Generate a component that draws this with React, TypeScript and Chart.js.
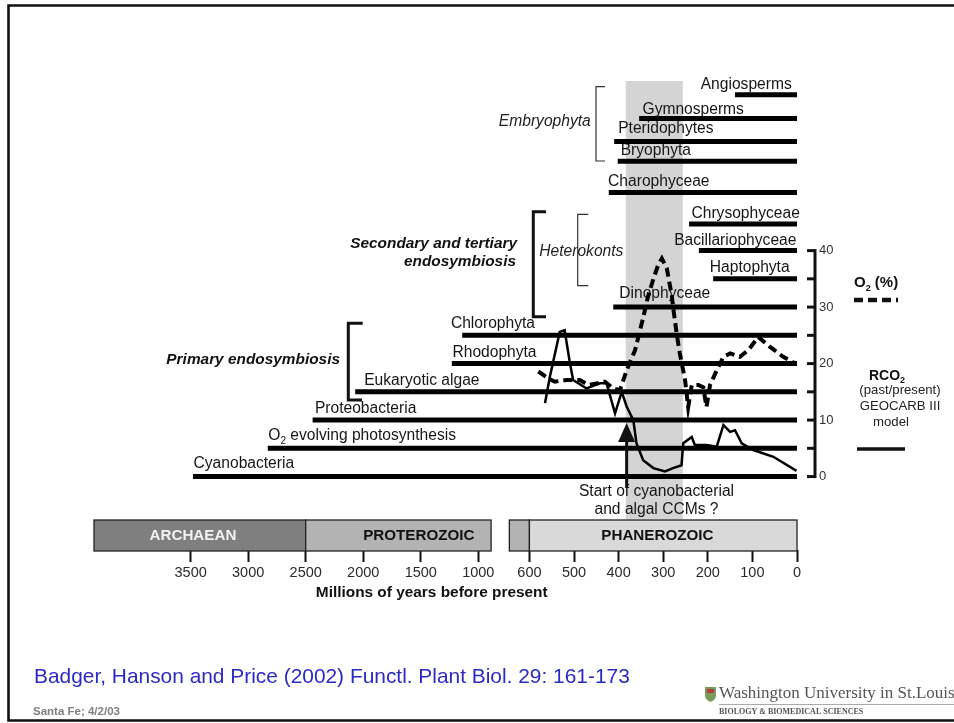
import React, { useEffect, useRef } from 'react';
import { Chart, registerables } from 'chart.js';

Chart.register(...registerables);

// ---------------- data ----------------
const lineageNames = [
  'Cyanobacteria', 'O₂ evolving photosynthesis', 'Proteobacteria', 'Eukaryotic algae',
  'Rhodophyta', 'Chlorophyta', 'Dinophyceae', 'Haptophyta', 'Bacillariophyceae',
  'Chrysophyceae', 'Charophyceae', 'Bryophyta', 'Pteridophytes', 'Gymnosperms', 'Angiosperms',
];
const lineageOriginMa = [3480, 2830, 2440, 2070, 1230, 1140, 412, 188, 220, 242, 422, 402, 410, 354, 139];
const lineageLevel = [0, 5, 10, 15, 20, 25, 30, 35, 40, 44.7, 50.3, 55.8, 59.3, 63.4, 67.6];

const o2AgeMa = [580, 558, 543, 517, 487, 468, 449, 431, 412, 397, 382, 363, 345, 334, 322, 312, 303, 292, 281, 276, 270, 263, 251, 244, 236, 221, 210, 203, 195, 180, 165, 150, 128, 109, 87, 61, 31, 4];
const o2Percent = [18.6, 17.4, 16.8, 17.1, 17.1, 16.2, 16.5, 16.8, 15.6, 15.3, 18.8, 22.4, 28.1, 31.9, 35.0, 37.3, 38.6, 36.9, 32.1, 28.9, 25.4, 21.9, 17.1, 12.3, 16.2, 16.2, 15.8, 12.3, 16.2, 18.8, 21.2, 21.8, 21.2, 22.4, 24.7, 23.0, 21.2, 20.0];

const rco2AgeMa = [565, 554, 532, 521, 509, 502, 472, 442, 427, 408, 393, 382, 367, 360, 345, 322, 296, 278, 259, 255, 236, 229, 203, 180, 165, 150, 139, 124, 98, 53, 1];
const rco2Ratio = [13.0, 17.7, 25.6, 25.9, 20.0, 17.1, 15.6, 16.5, 16.5, 11.2, 15.0, 12.4, 10.0, 5.9, 2.9, 1.5, 0.9, 1.5, 2.0, 5.9, 7.0, 5.6, 5.6, 5.3, 9.1, 7.9, 8.2, 5.9, 4.7, 3.5, 1.0];

const xTickMa = [3500, 3000, 2500, 2000, 1500, 1000, 600, 500, 400, 300, 200, 100, 0];
const xTickLabels = ['3500', '3000', '2500', '2000', '1500', '1000', '600', '500', '400', '300', '200', '100', '0'];
const rightAxisTicks = [0, 5, 10, 15, 20, 25, 30, 35, 40];
const rightAxisLabels = ['0', '', '10', '', '20', '', '30', '', '40'];

const eraNames = ['ARCHAEAN', 'PROTEROZOIC', 'PHANEROZOIC'];
const eraOldMa = [4340, 2500, 600];
const eraYoungMa = [2500, 600, 0];

const ccmWindowMa = [384, 256];
const ccmStartMa = 382;

// ---------------- layout / style ----------------
const W = 954;
const H = 723;
const PLOT_LEFT = 94;
const PLOT_RIGHT = 797;
const PLOT_TOP = 6;
const PLOT_BOTTOM = 550;
const Y_MIN = -13;
const Y_MAX = 83.3;
// broken time axis: old segment compressed, young segment full scale
const SEGMENTS = [[4340, 889], [645, 0]];
const toAxis = (ma: number) => (ma <= 700 ? ma : 714.6 + (ma - 1000) * 0.258);
const X_MAX = toAxis(4340);

const labelDx = [0.6, 0.6, 2.3, 9, 0.6, -11.3, 6, -3.3, -24.7, 2.4, -0.7, 3, 4, 3.4, -34.3];
const labelDy = [12.4, 12.3, 11, 11, 10.6, 11.7, 13.3, 10.7, 9.7, 10.7, 10.6, 11, 12.7, 9, 10];
const eraLabelMa = [3480, 1517, 313];
const eraFill = ['#7f7f7f', '#b3b3b3', '#d9d9d9'];
const eraText = ['#f2f2f2', '#111111', '#111111'];

const SANS = '"Liberation Sans", Arial, sans-serif';
const SERIF = '"Liberation Serif", "Times New Roman", serif';
const INK = '#111111';

function richText(
  ctx: CanvasRenderingContext2D, text: string, x: number, y: number, size: number,
  weight: string, style: string, align: 'left' | 'center' | 'right', color: string,
) {
  const parts = text.split('₂');
  const mainFont = `${style} ${weight} ${size}px ${SANS}`;
  const subFont = `${style} ${weight} ${Math.round(size * 0.62)}px ${SANS}`;
  const pieces: { t: string; sub: boolean }[] = [];
  parts.forEach((p, i) => {
    if (p) pieces.push({ t: p, sub: false });
    if (i < parts.length - 1) pieces.push({ t: '2', sub: true });
  });
  let total = 0;
  const widths = pieces.map((p) => {
    ctx.font = p.sub ? subFont : mainFont;
    const w = ctx.measureText(p.t).width;
    total += w;
    return w;
  });
  let cx = align === 'left' ? x : align === 'center' ? x - total / 2 : x - total;
  ctx.fillStyle = color;
  ctx.textAlign = 'left';
  ctx.textBaseline = 'middle';
  pieces.forEach((p, i) => {
    ctx.font = p.sub ? subFont : mainFont;
    ctx.fillText(p.t, cx, p.sub ? y + size * 0.32 : y);
    cx += widths[i];
  });
}

function line(ctx: CanvasRenderingContext2D, pts: number[][], width: number, color = INK) {
  ctx.save();
  ctx.strokeStyle = color;
  ctx.lineWidth = width;
  ctx.lineCap = 'butt';
  ctx.lineJoin = 'miter';
  ctx.beginPath();
  pts.forEach((p, i) => (i === 0 ? ctx.moveTo(p[0], p[1]) : ctx.lineTo(p[0], p[1])));
  ctx.stroke();
  ctx.restore();
}

const decorPlugin = {
  id: 'decor',
  beforeDatasetsDraw(chart: any) {
    const ctx: CanvasRenderingContext2D = chart.ctx;
    const xs = chart.scales.x;
    const ys = chart.scales.y;
    const X = (ma: number) => xs.getPixelForValue(toAxis(ma));
    const Y = (v: number) => ys.getPixelForValue(v);
    ctx.save();
    // CCM window band
    const bx0 = X(ccmWindowMa[0]);
    const bx1 = X(ccmWindowMa[1]);
    ctx.fillStyle = '#d4d4d4';
    ctx.fillRect(bx0, 81, bx1 - bx0, 519 - 81);

    // lineage labels
    lineageNames.forEach((name, i) => {
      const x = X(lineageOriginMa[i]) + labelDx[i];
      const y = Y(lineageLevel[i]) - labelDy[i];
      richText(ctx, name, x, y, 15.6, 'normal', 'normal', 'left', '#161616');
    });

    // brackets
    line(ctx, [[605, 86.7], [596, 86.7], [596, 161], [605, 161]], 1.2, '#333');
    line(ctx, [[588.3, 214.3], [577.7, 214.3], [577.7, 285.7], [588.3, 285.7]], 1.2, '#333');
    line(ctx, [[546, 211.7], [533.3, 211.7], [533.3, 316.7], [546, 316.7]], 3);
    line(ctx, [[362.7, 323.3], [348.3, 323.3], [348.3, 400], [362, 400]], 3);

    richText(ctx, 'Embryophyta', 590.7, 121.7, 15.6, 'normal', 'italic', 'right', '#222');
    richText(ctx, 'Heterokonts', 539.3, 251.7, 15.6, 'normal', 'italic', 'left', '#222');
    richText(ctx, 'Secondary and tertiary', 517, 243.5, 15.4, 'bold', 'italic', 'right', INK);
    richText(ctx, 'endosymbiosis', 516, 261.5, 15.4, 'bold', 'italic', 'right', INK);
    richText(ctx, 'Primary endosymbiosis', 340, 359.3, 15.4, 'bold', 'italic', 'right', INK);
    ctx.restore();
  },
  afterDatasetsDraw(chart: any) {
    const ctx: CanvasRenderingContext2D = chart.ctx;
    const xs = chart.scales.x;
    const ys = chart.scales.y;
    const X = (ma: number) => xs.getPixelForValue(toAxis(ma));
    const Y = (v: number) => ys.getPixelForValue(v);
    ctx.save();

    // CCM arrow
    const ax = X(ccmStartMa);
    line(ctx, [[ax, 488], [ax, 438]], 3);
    ctx.fillStyle = INK;
    ctx.beginPath();
    ctx.moveTo(ax, 423);
    ctx.lineTo(ax + 8.5, 442);
    ctx.lineTo(ax - 8.5, 442);
    ctx.closePath();
    ctx.fill();
    richText(ctx, 'Start of cyanobacterial', 656.5, 492, 15.6, 'normal', 'normal', 'center', '#161616');
    richText(ctx, 'and algal CCMs ?', 656.5, 510, 15.6, 'normal', 'normal', 'center', '#161616');

    // right O2 axis
    const axX = 815;
    line(ctx, [[axX, Y(0) + 1.5], [axX, Y(40) - 1.5]], 3);
    rightAxisTicks.forEach((t, i) => {
      line(ctx, [[807, Y(t)], [axX, Y(t)]], 3);
      if (rightAxisLabels[i]) {
        richText(ctx, rightAxisLabels[i], 819, Y(t), 13, 'normal', 'normal', 'left', '#333');
      }
    });

    // legend
    richText(ctx, 'O₂ (%)', 854, 283.3, 15, 'bold', 'normal', 'left', INK);
    ctx.save();
    ctx.setLineDash([9, 5]);
    line(ctx, [[854, 300], [898, 300]], 4.5);
    ctx.restore();
    richText(ctx, 'RCO₂', 887, 375.7, 14, 'bold', 'normal', 'center', INK);
    richText(ctx, '(past/present)', 900, 390.5, 13.2, 'normal', 'normal', 'center', '#222');
    richText(ctx, 'GEOCARB III', 900, 406.5, 13.2, 'normal', 'normal', 'center', '#222');
    richText(ctx, 'model', 891, 422, 13.2, 'normal', 'normal', 'center', '#222');
    line(ctx, [[857, 449], [905, 449]], 3.5);

    // era boxes
    const top = 520;
    const bot = 551;
    eraNames.forEach((name, i) => {
      SEGMENTS.forEach(([segOld, segYoung]) => {
        const o = Math.min(eraOldMa[i], segOld);
        const y = Math.max(eraYoungMa[i], segYoung);
        if (o <= y) return;
        const x0 = X(o);
        const x1 = X(y);
        ctx.fillStyle = eraFill[i];
        ctx.fillRect(x0, top, x1 - x0, bot - top);
        ctx.strokeStyle = '#222';
        ctx.lineWidth = 1.3;
        ctx.strokeRect(x0, top, x1 - x0, bot - top);
      });
      richText(ctx, name, X(eraLabelMa[i]), 536, 15.2, 'bold', 'normal', 'center', eraText[i]);
    });

    richText(ctx, 'Millions of years before present', 431.7, 593, 15.4, 'bold', 'normal', 'center', INK);

    // slide frame
    ctx.strokeStyle = '#111';
    ctx.lineWidth = 2.6;
    ctx.beginPath();
    ctx.moveTo(W + 2, 5.5);
    ctx.lineTo(8.5, 5.5);
    ctx.lineTo(8.5, 720.5);
    ctx.lineTo(W + 2, 720.5);
    ctx.stroke();

    // footer
    richText(ctx, 'Badger, Hanson and Price (2002) Functl. Plant Biol. 29: 161-173', 34, 677, 20.9, 'normal', 'normal', 'left', '#2a2ac4');
    richText(ctx, 'Santa Fe; 4/2/03', 33, 712, 11.5, 'bold', 'normal', 'left', '#808080');

    // university logo
    ctx.fillStyle = '#7a9a5a';
    ctx.beginPath();
    ctx.moveTo(705, 687);
    ctx.lineTo(716, 687);
    ctx.lineTo(716, 695);
    ctx.quadraticCurveTo(716, 700, 710.5, 702);
    ctx.quadraticCurveTo(705, 700, 705, 695);
    ctx.closePath();
    ctx.fill();
    ctx.fillStyle = '#b04040';
    ctx.fillRect(707, 689, 7, 4);
    ctx.fillStyle = '#555';
    ctx.font = `17px ${SERIF}`;
    ctx.textAlign = 'left';
    ctx.textBaseline = 'middle';
    ctx.fillText('Washington University in St.Louis', 719, 694);
    ctx.strokeStyle = '#aaa';
    ctx.lineWidth = 1;
    ctx.beginPath();
    ctx.moveTo(719, 704.5);
    ctx.lineTo(W, 704.5);
    ctx.stroke();
    ctx.fillStyle = '#555';
    ctx.font = `bold 8px ${SERIF}`;
    ctx.fillText('BIOLOGY & BIOMEDICAL SCIENCES', 719, 712);

    ctx.restore();
  },
};

export default function App() {
  const ref = useRef<HTMLCanvasElement | null>(null);

  useEffect(() => {
    document.body.style.margin = '0';
    const canvas = ref.current;
    if (!canvas) return;

    const lineageSets = lineageNames.map((name, i) => ({
      label: name,
      data: [
        { x: toAxis(lineageOriginMa[i]), y: lineageLevel[i] },
        { x: 0, y: lineageLevel[i] },
      ],
      borderColor: '#000',
      borderWidth: 5,
      borderCapStyle: 'butt' as const,
      pointRadius: 0,
      order: 2,
    }));

    const chart = new Chart(canvas, {
      type: 'line',
      data: {
        datasets: [
          {
            label: 'O2 (%)',
            data: o2AgeMa.map((m, i) => ({ x: toAxis(m), y: o2Percent[i] })),
            borderColor: '#000',
            borderWidth: 4,
            borderDash: [9, 5],
            borderCapStyle: 'butt',
            pointRadius: 0,
            tension: 0,
            order: 0,
            clip: 8,
          },
          {
            label: 'RCO2',
            data: rco2AgeMa.map((m, i) => ({ x: toAxis(m), y: rco2Ratio[i] })),
            borderColor: '#000',
            borderWidth: 2.5,
            pointRadius: 0,
            tension: 0,
            order: 1,
            clip: 8,
          },
          ...lineageSets,
        ] as any,
      },
      options: {
        animation: false,
        responsive: false,
        maintainAspectRatio: false,
        devicePixelRatio: 1,
        events: [],
        layout: { padding: { left: PLOT_LEFT, right: W - PLOT_RIGHT, top: PLOT_TOP, bottom: 0 } },
        plugins: { legend: { display: false }, tooltip: { enabled: false }, title: { display: false } },
        scales: {
          x: {
            type: 'linear',
            reverse: true,
            min: 0,
            max: X_MAX,
            afterBuildTicks: (axis: any) => {
              axis.ticks = xTickMa.map((m) => ({ value: toAxis(m) }));
            },
            afterFit: (axis: any) => {
              axis.height = H - PLOT_BOTTOM;
            },
            ticks: {
              autoSkip: false,
              maxRotation: 0,
              minRotation: 0,
              padding: 2,
              color: '#2a2a2a',
              font: { family: SANS, size: 14.5 },
              callback: (_v: any, i: number) => xTickLabels[i],
            },
            grid: {
              drawOnChartArea: false,
              drawTicks: true,
              tickLength: 12,
              tickWidth: 2,
              tickColor: '#111',
            },
            border: { display: false },
          },
          y: { type: 'linear', min: Y_MIN, max: Y_MAX, display: false },
        },
      } as any,
      plugins: [decorPlugin],
    });

    return () => chart.destroy();
  }, []);

  return <canvas ref={ref} width={W} height={H} style={{ display: 'block', width: W, height: H }} />;
}
